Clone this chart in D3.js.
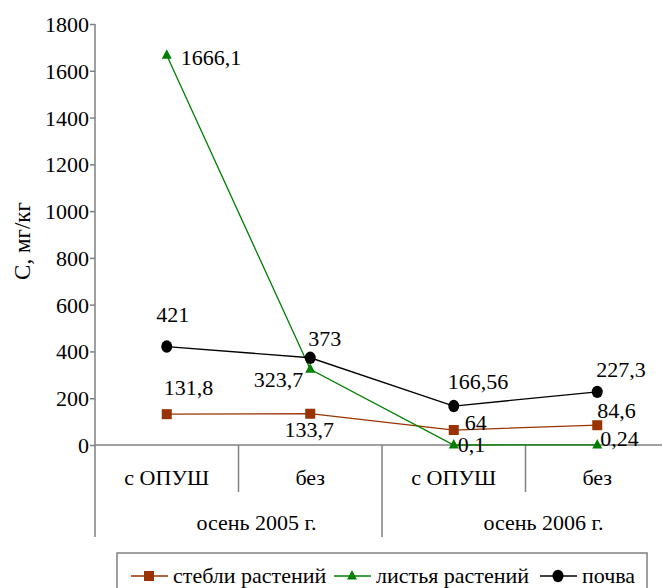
<!DOCTYPE html>
<html>
<head>
<meta charset="utf-8">
<script src="https://cdn.jsdelivr.net/npm/d3@7"></script>
<style>
  body { margin: 0; background: #fff; }
</style>
</head>
<body>
<svg id="chart"></svg>
<script>
// categories: sub-label + season group
const categories = ['с ОПУШ 2005', 'без 2005', 'с ОПУШ 2006', 'без 2006'];
const catLabels = ['с ОПУШ', 'без', 'с ОПУШ', 'без'];
const groups = ['осень 2005 г.', 'осень 2006 г.'];
const yTicks = [0, 200, 400, 600, 800, 1000, 1200, 1400, 1600, 1800];

const stems = [131.8, 133.7, 64, 84.6];
const leaves = [1666.1, 323.7, 0.1, 0.24];
const soil = [421, 373, 166.56, 227.3];

const stemLabels = ['131,8', '133,7', '64', '84,6'];
const leafLabels = ['1666,1', '323,7', '0,1', '0,24'];
const soilLabels = ['421', '373', '166,56', '227,3'];

const width = 662, height = 588;
const margin = { top: 24, left: 95, bottom: 143 };
const plotH = height - margin.top - margin.bottom;
const font = 'Liberation Serif';
const fs = 22;

const svg = d3.select('#chart').attr('width', width).attr('height', height);

const x = d3.scaleBand().domain(categories).range([margin.left, margin.left + 574]).padding(0);
const y = d3.scaleLinear().domain([0, 1800]).range([margin.top + plotH, margin.top]);
const cx = d => x(d) + x.bandwidth() / 2;
const axisColor = '#808080';

// y axis
const yAxisG = svg.append('g')
    .attr('transform', `translate(${margin.left},0)`)
    .call(d3.axisLeft(y).tickValues(yTicks).tickFormat(d3.format('d')).tickSize(5).tickSizeOuter(0).tickPadding(1));
yAxisG.attr('font-family', font).attr('font-size', fs);
yAxisG.select('.domain').remove();
yAxisG.selectAll('line').attr('stroke', axisColor).attr('stroke-width', 1.5);
yAxisG.selectAll('text').attr('fill', '#000').attr('dy', '0.34em');

// vertical axis line extended down to group row
svg.append('line')
    .attr('x1', margin.left).attr('x2', margin.left)
    .attr('y1', y(1800)).attr('y2', y(0) + 92)
    .attr('stroke', axisColor).attr('stroke-width', 1.5);

// x axis baseline
svg.append('line')
    .attr('x1', margin.left).attr('x2', width)
    .attr('y1', y(0)).attr('y2', y(0))
    .attr('stroke', axisColor).attr('stroke-width', 1.5);

// category dividers
categories.slice(1).forEach((c, i) => {
    svg.append('line')
        .attr('x1', x(c)).attr('x2', x(c))
        .attr('y1', y(0)).attr('y2', y(0) + (i === 1 ? 92 : 47))
        .attr('stroke', axisColor).attr('stroke-width', 1.5);
});

// category labels
svg.selectAll('.cat')
    .data(categories)
    .join('text')
    .attr('class', 'cat')
    .attr('x', d => cx(d))
    .attr('y', y(0) + 40)
    .attr('text-anchor', 'middle')
    .attr('font-family', font)
    .attr('font-size', fs)
    .text((d, i) => catLabels[i]);

// group labels
svg.selectAll('.grp')
    .data(groups)
    .join('text')
    .attr('class', 'grp')
    .attr('x', (d, i) => x(categories[i * 2 + 1]) + 18)
    .attr('y', y(0) + 85)
    .attr('text-anchor', 'middle')
    .attr('font-family', font)
    .attr('font-size', fs)
    .text(d => d);

// y axis title
svg.append('text')
    .attr('transform', `translate(30,241) rotate(-90)`)
    .attr('text-anchor', 'middle')
    .attr('font-family', font)
    .attr('font-size', 23)
    .text('С,  мг/кг');

const line = d3.line().x((d, i) => cx(categories[i])).y(d => y(d));

const series = [
    { name: 'стебли растений', values: stems, labels: stemLabels, color: '#993300', shape: 'square' },
    { name: 'листья растений', values: leaves, labels: leafLabels, color: '#008000', shape: 'triangle' },
    { name: 'почва', values: soil, labels: soilLabels, color: '#000000', shape: 'circle' }
];

function drawMarker(g, shape, color) {
    if (shape === 'square') {
        g.append('rect').attr('x', -5).attr('y', -5).attr('width', 10).attr('height', 10).attr('fill', color);
    } else if (shape === 'triangle') {
        g.append('path').attr('d', 'M0,-6L5,3.5L-5,3.5Z').attr('fill', color);
    } else {
        g.append('ellipse').attr('rx', 5.5).attr('ry', 6.2).attr('fill', color);
    }
}

series.forEach(s => {
    svg.append('path')
        .datum(s.values)
        .attr('d', line)
        .attr('fill', 'none')
        .attr('stroke', s.color)
        .attr('stroke-width', 1.3);
});

series.forEach(s => {
    s.values.forEach((v, i) => {
        const g = svg.append('g').attr('transform', `translate(${cx(categories[i])},${y(v)})`);
        drawMarker(g, s.shape, s.color);
    });
});

// data label offsets (dx, dy relative to point, anchor)
const labelPos = {
    'стебли растений': [[-3, -19, 'start'], [-1, 23, 'middle'], [11, 0, 'start'], [0, -7, 'start']],
    'листья растений': [[14, 10, 'start'], [-7, 18, 'end'], [4, 7, 'start'], [3, 1, 'start']],
    'почва': [[6, -25, 'middle'], [-2, -12, 'start'], [-6, -17, 'start'], [-1, -15, 'start']]
};

series.forEach(s => {
    s.values.forEach((v, i) => {
        const p = labelPos[s.name][i];
        svg.append('text')
            .attr('x', cx(categories[i]) + p[0])
            .attr('y', y(v) + p[1])
            .attr('text-anchor', p[2])
            .attr('font-family', font)
            .attr('font-size', fs)
            .text(s.labels[i]);
    });
});

// legend
const legend = svg.append('g');
legend.append('rect')
    .attr('x', 117).attr('y', 553)
    .attr('width', 530).attr('height', 50)
    .attr('fill', '#fff').attr('stroke', axisColor).attr('stroke-width', 1.5);

const legendX = [131, 334, 540];
series.forEach((s, i) => {
    const g = legend.append('g').attr('transform', `translate(${legendX[i]},576)`);
    g.append('line').attr('x1', 0).attr('x2', 37).attr('stroke', s.color).attr('stroke-width', 1.3);
    const m = g.append('g').attr('transform', 'translate(18,0)');
    drawMarker(m, s.shape, s.color);
    g.append('text').attr('x', 42).attr('y', 7)
        .attr('font-family', font).attr('font-size', fs).text(s.name);
});
</script>
</body>
</html>
